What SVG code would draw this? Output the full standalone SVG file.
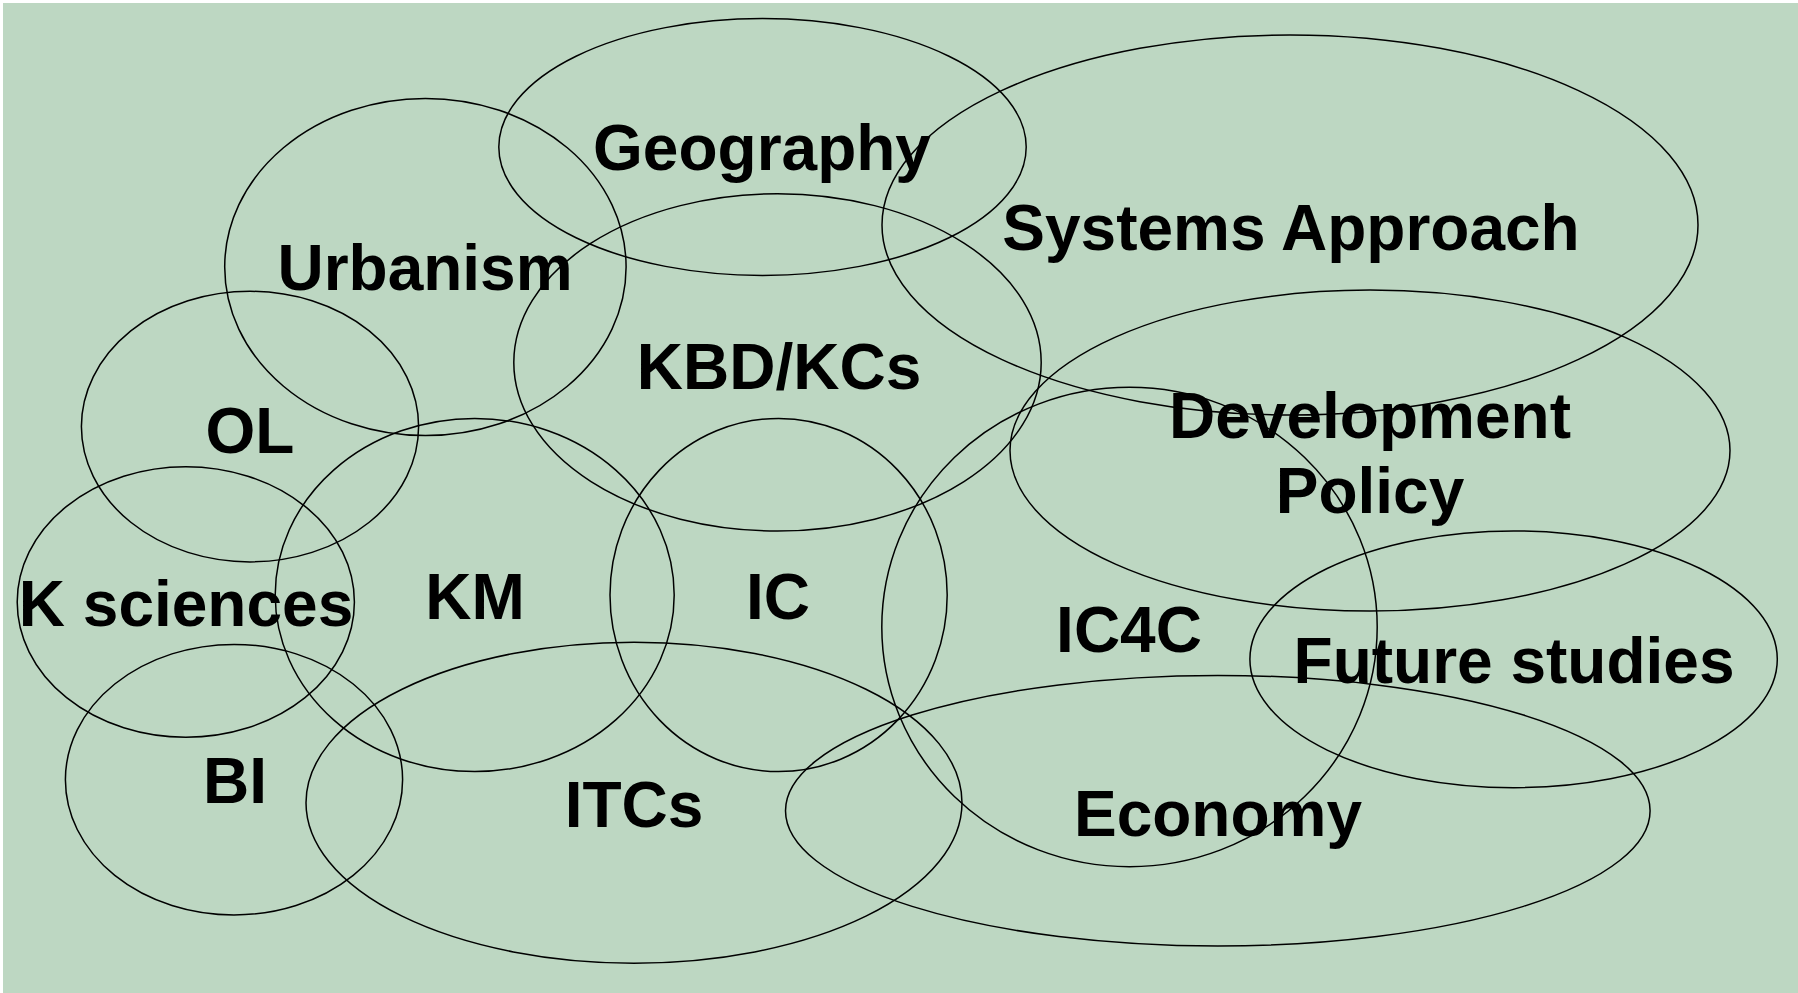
<svg xmlns="http://www.w3.org/2000/svg" width="1798" height="993" viewBox="0 0 1798 993">
<style>
.bg{fill:#BDD7C2}
.e{fill:none;stroke:#000;stroke-width:1.5}
.t{font-family:"Liberation Sans",Arial,sans-serif;font-weight:bold;font-size:64px;fill:#000;text-anchor:middle}
</style>
<rect x="0" y="0" width="1798" height="993" fill="#fff"/>
<rect class="bg" x="3" y="3" width="1795" height="990"/>
<g id="geography"><ellipse class="e" cx="762.5" cy="147" rx="263.7" ry="128.4"/><text class="t" x="762" y="170">Geography</text></g>
<g id="systems-approach"><ellipse class="e" cx="1290" cy="225" rx="408" ry="190"/><text class="t" x="1291" y="250">Systems Approach</text></g>
<g id="urbanism"><ellipse class="e" cx="425.4" cy="267" rx="200.7" ry="168.6"/><text class="t" x="425" y="290">Urbanism</text></g>
<g id="kbd-kcs"><ellipse class="e" cx="777.5" cy="362.4" rx="263.7" ry="168.6"/><text class="t" x="779" y="389">KBD/KCs</text></g>
<g id="ol"><ellipse class="e" cx="250" cy="426.6" rx="168.6" ry="135.3"/><text class="t" x="250" y="453">OL</text></g>
<g id="development-policy"><ellipse class="e" cx="1370" cy="450.6" rx="360" ry="160.5"/><text class="t" x="1370" y="438">Development</text><text class="t" x="1370" y="513">Policy</text></g>
<g id="k-sciences"><ellipse class="e" cx="185.8" cy="602" rx="168.6" ry="135.3"/><text class="t" x="186" y="626">K sciences</text></g>
<g id="km"><ellipse class="e" cx="474.7" cy="595" rx="199.5" ry="176.6"/><text class="t" x="475" y="619">KM</text></g>
<g id="ic"><ellipse class="e" cx="778.6" cy="595" rx="168.6" ry="176.6"/><text class="t" x="778" y="619">IC</text></g>
<g id="ic4c"><ellipse class="e" cx="1129.5" cy="627" rx="247.7" ry="239.7"/><text class="t" x="1129" y="652">IC4C</text></g>
<g id="future-studies"><ellipse class="e" cx="1513.6" cy="659.3" rx="263.7" ry="128.4"/><text class="t" x="1514" y="683">Future studies</text></g>
<g id="bi"><ellipse class="e" cx="234" cy="779.7" rx="168.6" ry="135.3"/><text class="t" x="235" y="803">BI</text></g>
<g id="itcs"><ellipse class="e" cx="634" cy="802.7" rx="328" ry="160.5"/><text class="t" x="634" y="827">ITCs</text></g>
<g id="economy"><ellipse class="e" cx="1217.8" cy="810.7" rx="432.3" ry="135.3"/><text class="t" x="1218" y="836">Economy</text></g>
<g id="connectors"></g>
</svg>
